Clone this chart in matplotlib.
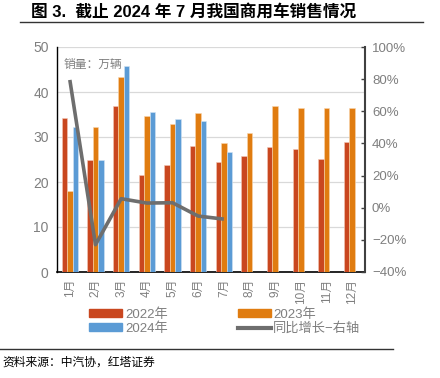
import matplotlib
matplotlib.use("Agg")
import matplotlib.pyplot as plt
import numpy as np
from matplotlib.patches import Patch
from matplotlib.lines import Line2D
from matplotlib.ticker import FuncFormatter

plt.rcParams['font.family'] = ['Liberation Sans', 'Noto Sans CJK SC', 'DejaVu Sans']
plt.rcParams['axes.unicode_minus'] = True

months = ['1月', '2月', '3月', '4月', '5月', '6月', '7月', '8月', '9月', '10月', '11月', '12月']
sales_2022 = [34.3, 24.8, 36.9, 21.5, 23.8, 28.0, 24.4, 25.7, 27.8, 27.3, 25.2, 29.0]
sales_2023 = [17.9, 32.2, 43.3, 34.6, 33.0, 35.3, 28.6, 30.8, 37.0, 36.4, 36.4, 36.4]
sales_2024 = [32.2, 25.0, 45.7, 35.6, 34.0, 33.6, 26.7]
yoy_2024 = [79.5, -23.0, 5.6, 2.9, 3.1, -5.2, -7.1]

c22 = '#C9471F'
c23 = '#E07C10'
c24 = '#5B9BD5'
cline = '#6E6E6E'
gray = '#7F7F7F'

fig = plt.figure(figsize=(4.4, 3.78), dpi=100)
ax = fig.add_axes([57/440, 1-272/378, (365-57)/440, (272-47)/378])
ax2 = ax.twinx()

x = np.arange(len(months))
w = 0.21
ax.bar(x - w, sales_2022, w, color=c22, edgecolor='#F3C9B8', linewidth=0.4, zorder=3)
ax.bar(x, sales_2023, w, color=c23, edgecolor='#F8D6AE', linewidth=0.4, zorder=3)
ax.bar(x[:len(sales_2024)] + w, sales_2024, w, color=c24, edgecolor='#D2E4F4', linewidth=0.4, zorder=3)

ax.set_ylim(0, 50)
ax.set_yticks([0, 10, 20, 30, 40, 50])
ax.set_xlim(-0.5, 11.5)
ax.set_xticks(x)
ax.set_xticklabels(months, rotation=90, fontsize=8.5, color=gray)
ax.grid(axis='y', color='#D9D9D9', linewidth=0.9, zorder=0)
ax.set_axisbelow(True)
ax.tick_params(axis='y', length=0, labelsize=10, labelcolor=gray, pad=6)
ax.tick_params(axis='x', length=0, pad=5)
for s in ['top', 'right']:
    ax.spines[s].set_visible(False)
ax.spines['left'].set_color('black')
ax.spines['left'].set_linewidth(1.0)
ax.spines['bottom'].set_color('black')
ax.spines['bottom'].set_linewidth(1.2)

ax2.plot(x[:len(yoy_2024)], yoy_2024, color=cline, linewidth=2.6, zorder=5, solid_capstyle='butt')
ax2.set_ylim(-40, 100)
ax2.set_yticks(np.arange(-40, 101, 20))
ax2.yaxis.set_major_formatter(FuncFormatter(lambda v, p: f"{int(v)}%".replace('-', '\u2212')))
ax2.tick_params(axis='y', direction='in', length=3, width=1, color='#404040', labelsize=9.5, labelcolor=gray, pad=5)
for s in ['top', 'left', 'bottom']:
    ax2.spines[s].set_visible(False)
ax2.spines['right'].set_color('#404040')
ax2.spines['right'].set_linewidth(1.5)

ax.text(0.02, 0.95, '销量：万辆', transform=ax.transAxes, fontsize=8.5, color=gray,
        va='top', ha='left', family=['Noto Sans CJK SC'])

handles = [Patch(color=c22), Patch(color=c24), Patch(color=c23),
           Line2D([0], [0], color=cline, linewidth=3)]
labels = ['2022年', '2024年', '2023年', '同比增长\u2212右轴']
leg = fig.legend(handles, labels, ncol=2, loc='upper left', bbox_to_anchor=(80/440, 1-299/378),
                 frameon=False, fontsize=9.5, handlelength=2.5, handleheight=0.5,
                 handletextpad=0.2, columnspacing=5.3, labelspacing=0.1, borderpad=0.2)
for t in leg.get_texts():
    t.set_color(gray)

fig.text(31/440, 1-12/378, '图 3.  截止 2024 年 7 月我国商用车销售情况', fontsize=12, fontweight='bold',
         va='center', ha='left', color='black')
fig.add_artist(Line2D([20/440, 423/440], [1-22/378, 1-22/378], color='#333333', linewidth=1.0))
fig.add_artist(Line2D([0, 393/440], [1-349/378, 1-349/378], color='#333333', linewidth=1.0))
fig.text(2/440, 1-362/378, '资料来源：中汽协，红塔证券', fontsize=8.5, va='center', ha='left', color='black',
         family=['Noto Sans CJK SC'])

fig.savefig('out.png', dpi=100)
